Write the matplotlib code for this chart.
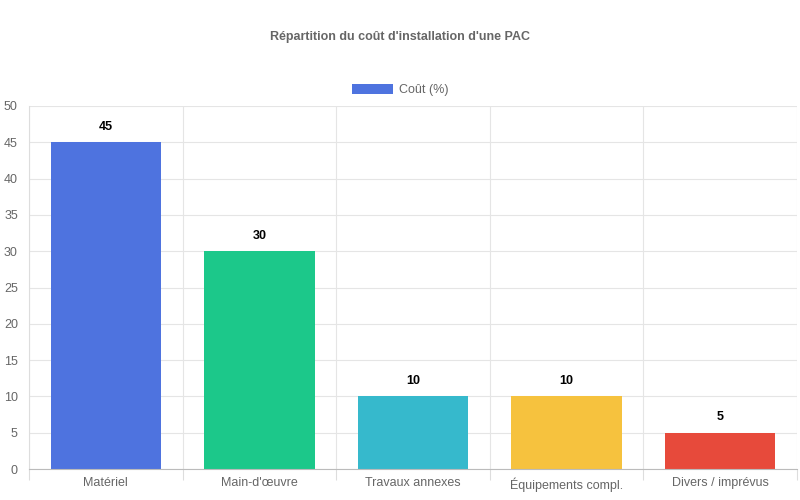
import matplotlib
matplotlib.use("Agg")
import matplotlib.pyplot as plt

categories = ["Matériel", "Main-d'œuvre", "Travaux annexes", "Équipements compl.", "Divers / imprévus"]
values = [45, 30, 10, 10, 5]
colors = ["#4e73df", "#1cc88a", "#36b9cc", "#f6c23e", "#e74a3b"]

plt.rcParams['font.family'] = ['Liberation Sans', 'DejaVu Sans']
fig = plt.figure(figsize=(8, 5), dpi=100)
ax = fig.add_axes([29/800, 1-469/500, 768/800, 363/500])
x = range(len(categories))
bars = ax.bar(x, values, width=0.72, color=colors, zorder=2, label="Coût (%)")
for xi, v in zip(x, values):
    ax.text(xi, v + 1.3, str(v), ha='center', va='bottom', fontsize=9, fontweight='bold', color='#000')
ax.set_xlim(-0.5, len(categories) - 0.5)
ax.set_ylim(0, 50)
ax.set_yticks(range(0, 51, 5))
ax.set_xticks([i + 0.5 for i in range(-1, len(categories))], minor=False)
ax.set_xticklabels([])
ax.set_xticks(list(x), minor=True)
ax.set_xticklabels(categories, minor=True)
ax.tick_params(axis='x', which='minor', length=0, pad=6, labelsize=9, labelcolor='#666')
ax.tick_params(axis='x', which='major', length=8, color='#ddd')
ax.tick_params(axis='y', length=0, pad=8, labelsize=9, labelcolor='#666')
ax.grid(True, which='major', color='#e5e5e5', linewidth=0.8, zorder=0)
for s in ['top', 'right']:
    ax.spines[s].set_visible(False)
ax.spines['left'].set_color('#ddd')
ax.spines['bottom'].set_color('#bbb')
fig.text(0.5, 1-37/500, "Répartition du coût d'installation d'une PAC", ha='center', va='center',
         fontsize=9, fontweight='bold', color='#666')
fig.legend(handles=[bars], loc='center', bbox_to_anchor=(0.5, 1-90/500), frameon=False,
           fontsize=9, handlelength=3.3, handleheight=0.9, labelcolor='#666', handletextpad=0.5)
fig.savefig("out.png", dpi=100)
